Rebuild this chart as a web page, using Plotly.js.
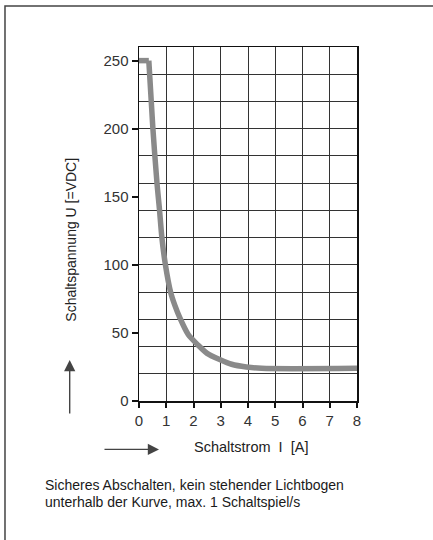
<!DOCTYPE html>
<html>
<head>
<meta charset="utf-8">
<script src="https://cdn.plot.ly/plotly-3.0.1.min.js"></script>
<style>
  html, body { margin: 0; padding: 0; background: #ffffff; }
  #chart { width: 433px; height: 540px; }
</style>
</head>
<body>
<div id="chart"></div>
<script>
// Data
var current = [0, 0.36, 0.51, 0.66, 0.75, 0.84, 0.97, 1.16, 1.32, 1.5, 1.8, 2.17, 2.5, 2.96, 3.4, 3.94, 4.5, 8];
var voltage = [250, 250, 200, 160, 141, 120, 100, 80, 70, 61, 49, 41, 35, 30.5, 27, 25, 24, 24];
var xTicks = [0, 1, 2, 3, 4, 5, 6, 7, 8];
var yTicks = [0, 50, 100, 150, 200, 250];

var yTitle = 'Schaltspannung U [=VDC]';
var xTitle = 'Schaltstrom\u00a0\u00a0I\u00a0\u00a0[A]';
var note1 = 'Sicheres Abschalten, kein stehender Lichtbogen';
var note2 = 'unterhalb der Kurve, max. 1 Schaltspiel/s';

var regular = '"Liberation Sans", Arial, sans-serif';
var curveStyle = { color: '#8a8a8a', width: 5.5 };

var traces = [
  { // flat top segment (sharp corner)
    x: current.slice(0, 2), y: voltage.slice(0, 2), type: 'scatter', mode: 'lines',
    line: Object.assign({ shape: 'linear' }, curveStyle),
    hoverinfo: 'skip', showlegend: false
  },
  { // falling, smooth part
    x: current.slice(1), y: voltage.slice(1), type: 'scatter', mode: 'lines',
    line: Object.assign({ shape: 'spline', smoothing: 0.8 }, curveStyle),
    hoverinfo: 'skip', showlegend: false
  },
  { x: [], y: [], type: 'scatter', mode: 'lines', yaxis: 'y2', showlegend: false, hoverinfo: 'skip' }
];

var layout = {
  width: 433, height: 540,
  margin: { l: 139, r: 76, t: 47, b: 139, pad: 0 },
  paper_bgcolor: '#ffffff', plot_bgcolor: '#ffffff',
  showlegend: false,
  xaxis: {
    range: [0, 8], tickvals: xTicks, ticktext: xTicks.map(String),
    ticks: 'outside', ticklen: 5, tickwidth: 2, tickcolor: '#111',
    showgrid: true, gridcolor: '#333', gridwidth: 1,
    showline: true, linecolor: '#111', linewidth: 1.5, mirror: true,
    zeroline: false, fixedrange: true,
    tickfont: { family: regular, size: 15, color: '#333' }
  },
  yaxis: {
    range: [0, 260], tickvals: yTicks, ticktext: yTicks.map(String),
    ticks: 'outside', ticklen: 6, tickwidth: 2, tickcolor: '#111',
    showgrid: false,
    showline: true, linecolor: '#111', linewidth: 1.5, mirror: true,
    zeroline: false, fixedrange: true,
    tickfont: { family: regular, size: 15, color: '#333' }
  },
  yaxis2: {
    overlaying: 'y', side: 'left', range: [0, 260], dtick: 20, tick0: 0,
    showgrid: true, gridcolor: '#333', gridwidth: 1,
    showticklabels: false, ticks: '', showline: false, zeroline: false, fixedrange: true
  },
  shapes: [
    { type: 'rect', xref: 'paper', yref: 'paper',
      x0: -0.6147, x1: 1.5, y0: -0.5, y1: 1.1158,
      line: { color: '#444', width: 1.5 }, fillcolor: 'rgba(0,0,0,0)', layer: 'above' }
  ],
  annotations: [
    { text: yTitle, xref: 'paper', yref: 'paper', x: -0.312, y: 0.4556,
      xanchor: 'center', yanchor: 'middle', textangle: -90, showarrow: false,
      font: { family: regular, size: 14, color: '#222' } },
    { text: xTitle, xref: 'paper', yref: 'paper', x: 0.513, y: -0.129,
      xanchor: 'center', yanchor: 'middle', showarrow: false,
      font: { family: regular, size: 14.5, color: '#222' } },
    { text: note1, xref: 'paper', yref: 'paper', x: -0.4404, y: -0.2359,
      xanchor: 'left', yanchor: 'middle', showarrow: false,
      font: { family: regular, size: 14, color: '#1a1a1a' } },
    { text: note2, xref: 'paper', yref: 'paper', x: -0.4404, y: -0.2839,
      xanchor: 'left', yanchor: 'middle', showarrow: false,
      font: { family: regular, size: 14, color: '#1a1a1a' } },
    { text: '', xref: 'paper', yref: 'paper', x: -0.3179, y: 0.1158,
      ax: 0, ay: 55, showarrow: true, arrowhead: 2, arrowsize: 1.6,
      arrowwidth: 1.4, arrowcolor: '#444' },
    { text: '', xref: 'paper', yref: 'paper', x: 0.0917, y: -0.1367,
      ax: -56, ay: 0, showarrow: true, arrowhead: 2, arrowsize: 1.6,
      arrowwidth: 1.4, arrowcolor: '#444' }
  ]
};

Plotly.newPlot('chart', traces, layout, { displayModeBar: false, staticPlot: true });
</script>
</body>
</html>
